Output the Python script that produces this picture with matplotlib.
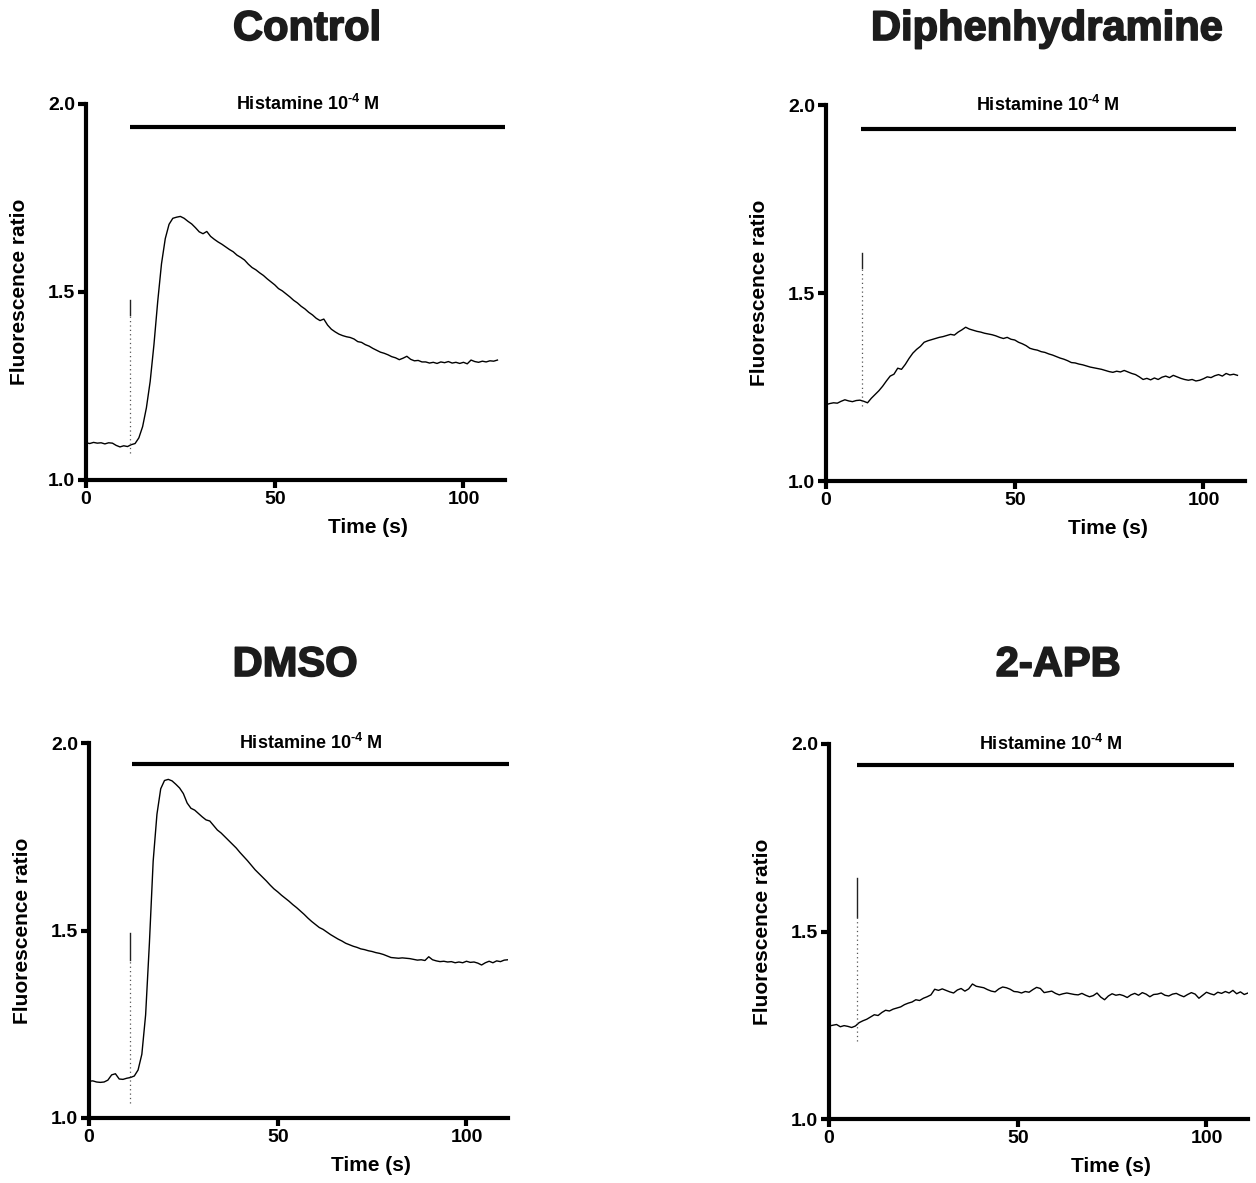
import numpy as np
import matplotlib
matplotlib.use("Agg")
import matplotlib.pyplot as plt
import matplotlib.patheffects as pe

plt.rcParams["font.family"] = ["Liberation Sans", "DejaVu Sans"]
plt.rcParams["font.weight"] = "bold"
plt.rcParams["mathtext.fontset"] = "custom"
plt.rcParams["mathtext.rm"] = "Liberation Sans:bold"
plt.rcParams["mathtext.it"] = "Liberation Sans:bold"
plt.rcParams["mathtext.bf"] = "Liberation Sans:bold"

# ratio traces, one reading per second
control_ratio = [
    1.099, 1.097, 1.100, 1.098, 1.099, 1.096, 1.099, 1.098, 1.092, 1.088,
    1.091, 1.089, 1.094, 1.097, 1.112, 1.142, 1.192, 1.262, 1.360, 1.475,
    1.575, 1.642, 1.680, 1.696, 1.699, 1.701, 1.696, 1.688, 1.681, 1.671,
    1.660, 1.655, 1.661, 1.648, 1.640, 1.633, 1.627, 1.620, 1.613, 1.607,
    1.598, 1.592, 1.585, 1.574, 1.565, 1.559, 1.551, 1.544, 1.535, 1.527,
    1.519, 1.509, 1.503, 1.495, 1.487, 1.478, 1.471, 1.462, 1.455, 1.446,
    1.439, 1.430, 1.424, 1.428, 1.412, 1.401, 1.394, 1.388, 1.384, 1.381,
    1.379, 1.375, 1.368, 1.366, 1.360, 1.356, 1.350, 1.345, 1.340, 1.337,
    1.333, 1.328, 1.325, 1.320, 1.324, 1.329, 1.321, 1.317, 1.318, 1.314,
    1.314, 1.311, 1.313, 1.310, 1.314, 1.312, 1.315, 1.311, 1.313, 1.310,
    1.313, 1.309, 1.319, 1.315, 1.313, 1.316, 1.314, 1.317, 1.316, 1.319,
]

diphen_ratio = [
    1.203, 1.206, 1.208, 1.207, 1.212, 1.216, 1.213, 1.211, 1.214, 1.215,
    1.212, 1.208, 1.220, 1.230, 1.240, 1.252, 1.266, 1.279, 1.284, 1.300,
    1.297, 1.310, 1.326, 1.340, 1.350, 1.358, 1.369, 1.373, 1.376, 1.379,
    1.382, 1.384, 1.387, 1.390, 1.388, 1.396, 1.402, 1.409, 1.404, 1.401,
    1.398, 1.396, 1.393, 1.391, 1.389, 1.386, 1.382, 1.379, 1.382, 1.377,
    1.375, 1.369, 1.365, 1.360, 1.353, 1.350, 1.348, 1.344, 1.342, 1.338,
    1.335, 1.331, 1.327, 1.324, 1.320, 1.315, 1.314, 1.311, 1.309, 1.306,
    1.303, 1.301, 1.299, 1.297, 1.294, 1.291, 1.289, 1.292, 1.290, 1.294,
    1.290, 1.286, 1.283, 1.277, 1.270, 1.273, 1.269, 1.274, 1.270, 1.276,
    1.279, 1.275, 1.281, 1.277, 1.273, 1.270, 1.268, 1.270, 1.266, 1.268,
    1.272, 1.277, 1.275, 1.280, 1.283, 1.279, 1.286, 1.282, 1.284, 1.281,
]

dmso_ratio = [
    1.098, 1.099, 1.096, 1.095, 1.096, 1.101, 1.115, 1.118, 1.104, 1.103,
    1.106, 1.108, 1.112, 1.128, 1.170, 1.275, 1.466, 1.685, 1.810, 1.878,
    1.900, 1.903, 1.899, 1.890, 1.880, 1.865, 1.840, 1.826, 1.821, 1.812,
    1.803, 1.795, 1.792, 1.780, 1.768, 1.760, 1.750, 1.740, 1.730, 1.720,
    1.708, 1.697, 1.686, 1.674, 1.662, 1.652, 1.642, 1.632, 1.621, 1.611,
    1.603, 1.594, 1.586, 1.578, 1.569, 1.561, 1.552, 1.543, 1.533, 1.524,
    1.516, 1.508, 1.503, 1.496, 1.489, 1.483, 1.477, 1.472, 1.466, 1.462,
    1.458, 1.455, 1.451, 1.449, 1.446, 1.444, 1.441, 1.439, 1.436, 1.432,
    1.428, 1.427, 1.426, 1.427, 1.426, 1.425, 1.423, 1.421, 1.422, 1.420,
    1.430, 1.422, 1.419, 1.417, 1.418, 1.416, 1.417, 1.414, 1.416, 1.414,
    1.418, 1.415, 1.416, 1.413, 1.408, 1.414, 1.418, 1.414, 1.419, 1.417,
    1.421, 1.422,
]

apb_ratio = [
    1.248, 1.250, 1.252, 1.246, 1.249, 1.247, 1.244, 1.248, 1.257, 1.262,
    1.266, 1.272, 1.278, 1.276, 1.284, 1.290, 1.288, 1.293, 1.296, 1.299,
    1.305, 1.309, 1.312, 1.318, 1.316, 1.322, 1.326, 1.331, 1.346, 1.343,
    1.347, 1.343, 1.339, 1.336, 1.344, 1.348, 1.341, 1.347, 1.360, 1.354,
    1.352, 1.350, 1.345, 1.341, 1.339, 1.347, 1.352, 1.350, 1.346, 1.340,
    1.339, 1.336, 1.340, 1.338, 1.345, 1.351, 1.348, 1.337, 1.339, 1.341,
    1.335, 1.331, 1.334, 1.336, 1.334, 1.332, 1.331, 1.335, 1.330, 1.326,
    1.329, 1.336, 1.325, 1.318, 1.328, 1.334, 1.330, 1.332, 1.329, 1.324,
    1.331, 1.335, 1.330, 1.337, 1.333, 1.326, 1.332, 1.333, 1.336, 1.330,
    1.328, 1.333, 1.335, 1.330, 1.326, 1.332, 1.337, 1.333, 1.322, 1.330,
    1.338, 1.334, 1.331, 1.338, 1.335, 1.340, 1.336, 1.343, 1.334, 1.339,
    1.332, 1.336,
]

titles = ["Control", "Diphenhydramine", "DMSO", "2-APB"]
traces = [control_ratio, diphen_ratio, dmso_ratio, apb_ratio]

# histamine application: bar start, bar end, bar level
histamine_start = [11.7, 9.2, 11.5, 7.5]
histamine_end = [111.0, 108.6, 111.2, 107.3]
histamine_level = [1.939, 1.935, 1.944, 1.943]

# perfusion-switch artefact: time, top, bottom of solid part, lowest point
artefact_time = [11.7, 9.5, 10.8, 7.5]
artefact_top = [1.479, 1.606, 1.493, 1.642]
artefact_solid = [1.439, 1.566, 1.422, 1.540]
artefact_low = [1.072, 1.200, 1.040, 1.207]

y_ticks = [1.0, 1.5, 2.0]
x_ticks = [0, 50, 100]

W, H = 1256, 1183
# axes boxes in pixels: left, top, right, bottom
boxes = [(86, 104, 505, 480), (826, 105, 1245, 481),
         (89, 743, 508, 1118), (829, 744, 1248, 1119)]
title_pos = [(307, 29), (1047, 29), (295, 665), (1058, 665)]

fig = plt.figure(figsize=(W / 100, H / 100), dpi=100)

for i in range(4):
    l, t, r, b = boxes[i]
    ax = fig.add_axes([l / W, 1 - b / H, (r - l) / W, (b - t) / H])
    ratio = np.array(traces[i])
    time = np.arange(len(ratio))
    ax.plot(time, ratio, color="black", lw=1.0)

    # switch artefact
    x0 = artefact_time[i]
    ax.plot([x0, x0], [artefact_solid[i], artefact_top[i]], color="#222222", lw=1.0)
    ax.plot([x0, x0], [artefact_low[i], artefact_solid[i]], color="#555555",
            lw=0.9, linestyle=(0, (1, 2.5)))

    # histamine bar and label
    ax.plot([histamine_start[i], histamine_end[i]], [histamine_level[i]] * 2,
            color="black", lw=3, solid_capstyle="butt", clip_on=False)
    ax.text(58.8, 2.0, "Histamine 10$^{\\text{-4}}$ M", ha="center", va="center",
            fontsize=13, fontweight="bold", clip_on=False)

    ax.set_xlim(0, 111)
    ax.set_ylim(1.0, 2.0)
    ax.set_xticks(x_ticks)
    ax.set_yticks(y_ticks)
    ax.set_yticklabels([f"{v:.1f}" for v in y_ticks])
    for side in ["top", "right"]:
        ax.spines[side].set_visible(False)
    for side in ["left", "bottom"]:
        ax.spines[side].set_linewidth(3)
    ax.tick_params(width=3, length=6, labelsize=14, pad=2)

    ax.set_ylabel("Fluorescence ratio", fontsize=15, fontweight="bold")
    ax.yaxis.set_label_coords(-57 / (r - l), 0.5)
    ax.set_xlabel("Time (s)", fontsize=15, fontweight="bold")
    ax.xaxis.set_label_coords(0.672, -0.127)
    ax.xaxis.label.set_verticalalignment("center")

    tx, ty = title_pos[i]
    fig.text(tx / W, 1 - ty / H, titles[i], ha="center", va="center",
             fontsize=30, fontweight="bold", color="#1c1c1c",
             path_effects=[pe.withStroke(linewidth=1.2, foreground="#1c1c1c")])

fig.savefig("out.png", dpi=100)
